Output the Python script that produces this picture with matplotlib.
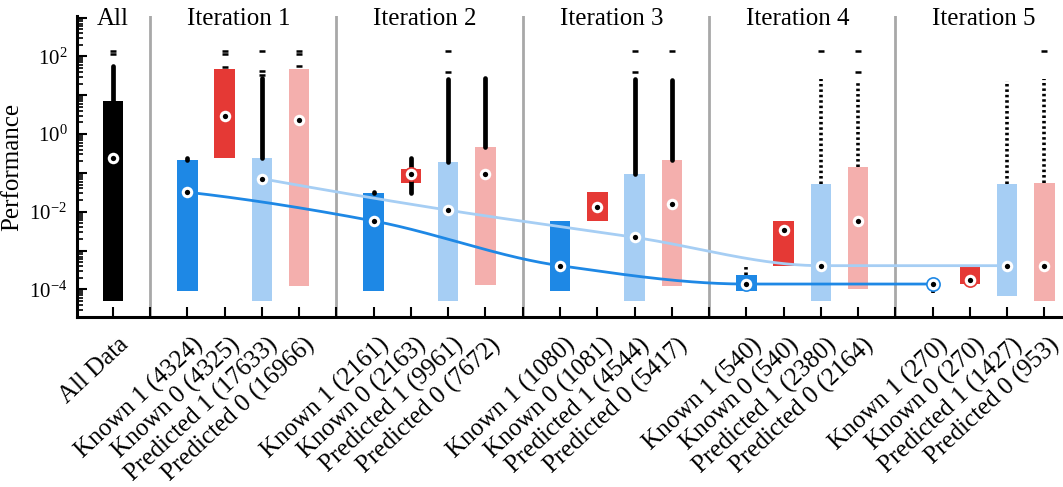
import numpy as np
import matplotlib
matplotlib.use("Agg")
import matplotlib.pyplot as plt
from matplotlib.transforms import blended_transform_factory, ScaledTranslation
from matplotlib.ticker import LogLocator, FuncFormatter, NullFormatter

# ---------------- Data ----------------
box_labels = ["All Data",
              "Known 1 (4324)", "Known 0 (4325)", "Predicted 1 (17633)", "Predicted 0 (16966)",
              "Known 1 (2161)", "Known 0 (2163)", "Predicted 1 (9961)", "Predicted 0 (7672)",
              "Known 1 (1080)", "Known 0 (1081)", "Predicted 1 (4544)", "Predicted 0 (5417)",
              "Known 1 (540)", "Known 0 (540)", "Predicted 1 (2380)", "Predicted 0 (2164)",
              "Known 1 (270)", "Known 0 (270)", "Predicted 1 (1427)", "Predicted 0 (953)"]
group_titles = ["All", "Iteration 1", "Iteration 2", "Iteration 3", "Iteration 4", "Iteration 5"]

box_med = [0.24,
           0.032, 2.86, 0.071, 2.35,
           0.0058, 0.093, 0.011, 0.093,
           4.1e-4, 0.013, 0.0022, 0.0156,
           1.38e-4, 0.0034, 4.1e-4, 0.0058,
           1.38e-4, 1.75e-4, 4.1e-4, 4.1e-4]
box_hi = [7.2,
          0.22, 47, 0.245, 47,
          0.031, 0.123, 0.19, 0.48,
          0.0057, 0.032, 0.092, 0.21,
          2.3e-4, 0.0057, 0.052, 0.144,
          1.38e-4, 3.8e-4, 0.051, 0.054]
box_lo = [5.1e-5,
          9.1e-5, 0.24, 5.1e-5, 1.23e-4,
          9.1e-5, 0.056, 5.1e-5, 1.3e-4,
          9.1e-5, 0.0058, 5.1e-5, 1.23e-4,
          9.1e-5, 4.1e-4, 5.1e-5, 1.05e-4,
          1.38e-4, 1.36e-4, 6.8e-5, 5.1e-5]

# outlier bands (many overlapping points) and isolated outliers
nan = np.nan
flier_lo = [7.2,
            0.22, nan, 0.245, nan,
            0.031, 0.031, 0.19, 0.48,
            nan, nan, 0.092, 0.21,
            2.3e-4, nan, 0.052, 0.144,
            8e-5, nan, 0.051, 0.054]
flier_hi = [57,
            0.24, nan, 27.6, nan,
            0.033, 0.245, 26, 27.6,
            nan, nan, 26, 24.5,
            4.3e-4, nan, 26, 21,
            1.6e-4, nan, 23, 26]
flier_dense = [1,
               1, 0, 1, 0,
               1, 1, 1, 1,
               0, 0, 1, 1,
               0, 0, 0, 0,
               0, 0, 0, 0]
flier_pts = [[118, 138],
             [], [54, 118, 138], [33, 41, 138], [57, 118, 138],
             [], [], [40, 138], [],
             [], [], [40, 138], [138],
             [], [], [138], [40, 138],
             [], [], [], [138]]

# ---------------- Style ----------------
plt.rcParams["font.family"] = ["Liberation Serif", "DejaVu Serif"]
plt.rcParams["mathtext.fontset"] = "stix"

C_K1, C_K0, C_P1, C_P0 = "#1E88E5", "#E53935", "#A6CEF4", "#F4AFAD"
box_colors = ["black"] + [C_K1, C_K0, C_P1, C_P0] * 5

positions = [1] + [5 * g - 2 + k for g in range(1, 6) for k in range(4)]
separators = [2, 7, 12, 17, 22]
title_x = [1] + [5 * g - 0.62 for g in range(1, 6)]


def pchip(x, y, xs):
    """Shape-preserving piecewise cubic (MATLAB-like) used only for drawing the trend lines."""
    x = np.asarray(x, float)
    y = np.asarray(y, float)
    h = np.diff(x)
    delta = np.diff(y) / h
    n = len(x)
    d = np.zeros(n)
    for k in range(1, n - 1):
        if delta[k - 1] * delta[k] > 0:
            w1 = 2 * h[k] + h[k - 1]
            w2 = h[k] + 2 * h[k - 1]
            d[k] = (w1 + w2) / (w1 / delta[k - 1] + w2 / delta[k])

    def end_slope(h0, h1, d0, d1):
        s = ((2 * h0 + h1) * d0 - h0 * d1) / (h0 + h1)
        if np.sign(s) != np.sign(d0):
            s = 0.0
        elif np.sign(d0) != np.sign(d1) and abs(s) > abs(3 * d0):
            s = 3 * d0
        return s

    d[0] = end_slope(h[0], h[1], delta[0], delta[1])
    d[-1] = end_slope(h[-1], h[-2], delta[-1], delta[-2])
    out = np.empty_like(xs, dtype=float)
    for i, xv in enumerate(xs):
        k = min(max(np.searchsorted(x, xv) - 1, 0), n - 2)
        t = (xv - x[k]) / h[k]
        h00 = 2 * t**3 - 3 * t**2 + 1
        h10 = t**3 - 2 * t**2 + t
        h01 = -2 * t**3 + 3 * t**2
        h11 = t**3 - t**2
        out[i] = h00 * y[k] + h10 * h[k] * d[k] + h01 * y[k + 1] + h11 * h[k] * d[k + 1]
    return out


fig = plt.figure(figsize=(10.63, 4.87), dpi=100)
ax = fig.add_axes([0.0724, 0.349, 0.9276, 0.618])
ax.set_yscale("log")
ax.set_xlim(0.035, 26.5)
ax.set_ylim(10 ** -4.71, 10 ** 3.04)

# separators
for s in separators:
    ax.axvline(s, color="#A8A8A8", lw=2.0, zorder=1)

# boxes
for x, lo, hi, c in zip(positions, box_lo, box_hi, box_colors):
    ax.bar(x, hi - lo, bottom=lo, width=0.55, color=c, lw=0, zorder=2)

# outliers
for x, lo, hi, dense, pts in zip(positions, flier_lo, flier_hi, flier_dense, flier_pts):
    if not np.isnan(lo):
        if dense:
            ax.plot([x, x], [lo, hi], color="black", lw=3.4, solid_capstyle="round", zorder=3)
        else:
            ax.plot([x, x], [lo, hi], color="black", lw=2.6, ls=(0, (0.7, 0.8)), zorder=3)
    if pts:
        ax.plot([x] * len(pts), pts, ls="none", marker="_", ms=4.5, mew=1.8, color="black", zorder=3)

# trend lines through the medians of Known 1 and Predicted 1
for offs, c in [(0, C_K1), (2, C_P1)]:
    idx = [1 + 4 * g + offs for g in range(5)]
    xs_l = [positions[i] for i in idx]
    ys_l = np.log10([box_med[i] for i in idx])
    xx = np.linspace(xs_l[0], xs_l[-1], 400)
    ax.plot(xx, 10 ** pchip(xs_l, ys_l, xx), color=c, lw=2.0, zorder=4)

# median markers
for x, m, c in zip(positions, box_med, box_colors):
    ax.plot(x, m, marker="o", ms=9.5, mfc="white", mec=c, mew=1.2, zorder=5)
    ax.plot(x, m, marker="o", ms=3.8, mfc="black", mec="black", mew=0, zorder=6)

# titles above each group
tr = blended_transform_factory(ax.transData, ax.transAxes)
for t, x in zip(group_titles, title_x):
    ax.text(x, 0.99, t, transform=tr, ha="center", va="center", fontsize=18)

# axes styling
ax.spines["top"].set_visible(False)
ax.spines["right"].set_visible(False)
ax.spines["left"].set_linewidth(2.2)
ax.spines["bottom"].set_linewidth(2.2)

ax.set_xticks(range(1, 27))
ax.set_xticklabels([""] * 26)
ax.tick_params(axis="x", direction="in", length=7, width=1.5)
off = ScaledTranslation(0.045, -0.165, fig.dpi_scale_trans)
xtr = blended_transform_factory(ax.transData, ax.transAxes) + off
for x, lab in zip(positions, box_labels):
    ax.text(x, 0, lab, transform=xtr, rotation=43, rotation_mode="anchor",
            ha="right", va="top", fontsize=18)

ax.yaxis.set_major_locator(LogLocator(base=10, numticks=20))
ax.yaxis.set_minor_locator(LogLocator(base=10, subs=np.arange(2, 10), numticks=20))
ax.yaxis.set_minor_formatter(NullFormatter())


def ylab(v, pos):
    e = int(round(np.log10(v)))
    return r"$\mathregular{10^{%d}}$" % e if e % 2 == 0 else ""


ax.yaxis.set_major_formatter(FuncFormatter(ylab))
ax.tick_params(axis="y", which="major", direction="in", length=7, width=1.5, labelsize=15, pad=7)
ax.tick_params(axis="y", which="minor", direction="in", length=4, width=1.2)
ax.set_ylabel("Performance", fontsize=18, labelpad=4)

fig.savefig("out.png", dpi=100)
